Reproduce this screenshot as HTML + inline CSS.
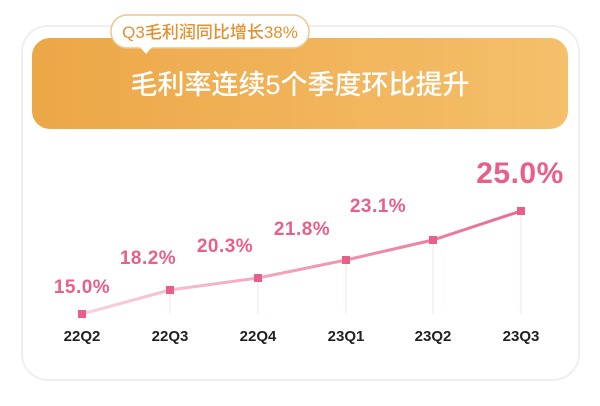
<!DOCTYPE html>
<html><head><meta charset="utf-8"><style>
body{margin:0;width:600px;height:401px;background:#fff;overflow:hidden;font-family:"Liberation Sans","Noto Sans CJK SC",sans-serif}
</style></head><body>
<svg width="600" height="401" viewBox="0 0 600 401" xmlns="http://www.w3.org/2000/svg">
<defs>
<linearGradient id="ban" x1="0" y1="0" x2="1" y2="0"><stop offset="0" stop-color="#eca747"/><stop offset="1" stop-color="#f5bf6b"/></linearGradient>
<linearGradient id="ln" x1="81" y1="0" x2="521" y2="0" gradientUnits="userSpaceOnUse"><stop offset="0" stop-color="#f9d3dc"/><stop offset="1" stop-color="#e96a8f"/></linearGradient>
</defs>
<rect x="22" y="26" width="557" height="354" rx="26" fill="#fff" stroke="#efefef" stroke-width="2"/>
<rect x="32" y="38" width="536" height="91" rx="18" fill="url(#ban)"/>
<rect x="111" y="15" width="198" height="33" rx="16" fill="#fff" stroke="#f0c58a" stroke-width="1.5"/>
<path d="M140 47 L146 54 L152 47 Z" fill="#fff"/>
<text x="210" y="38" text-anchor="middle" font-size="17" fill="#e4902f" font-weight="500" font-family="Liberation Sans,Noto Sans CJK SC,sans-serif">Q3毛利润同比增长38%</text>
<text x="300" y="94" text-anchor="middle" font-size="27" fill="#fff" font-weight="500" font-family="Liberation Sans,Noto Sans CJK SC,sans-serif">毛利率连续5个季度环比提升</text>
<g stroke="#f7e3e8" stroke-width="1">
<line x1="170" y1="290" x2="170" y2="314"/><line x1="258" y1="278" x2="258" y2="314"/><line x1="346" y1="260" x2="346" y2="314"/><line x1="433" y1="240" x2="433" y2="314"/><line x1="521" y1="211" x2="521" y2="314"/>
</g>
<polyline points="82,314 170,290 258,278 346,260 433,240 521,211" fill="none" stroke="url(#ln)" stroke-width="3"/>
<g fill="#e8608a">
<rect x="78" y="310" width="8" height="8"/><rect x="166" y="286" width="8" height="8"/><rect x="254" y="274" width="8" height="8"/><rect x="342" y="256" width="8" height="8"/><rect x="429" y="236" width="8" height="8"/><rect x="517" y="207" width="8" height="8"/>
</g>
<g fill="#e8608a" font-size="19" font-weight="bold" text-anchor="middle" style="letter-spacing:0.5px">
<text x="82" y="293">15.0%</text><text x="148" y="264">18.2%</text><text x="225" y="252">20.3%</text><text x="302" y="235">21.8%</text><text x="378" y="212">23.1%</text>
<text x="520" y="183" font-size="30">25.0%</text>
</g>
<g fill="#222" font-size="15" font-weight="bold" text-anchor="middle">
<text x="82" y="341">22Q2</text><text x="170" y="341">22Q3</text><text x="258" y="341">22Q4</text><text x="346" y="341">23Q1</text><text x="433" y="341">23Q2</text><text x="521" y="341">23Q3</text>
</g>
</svg>
</body></html>
